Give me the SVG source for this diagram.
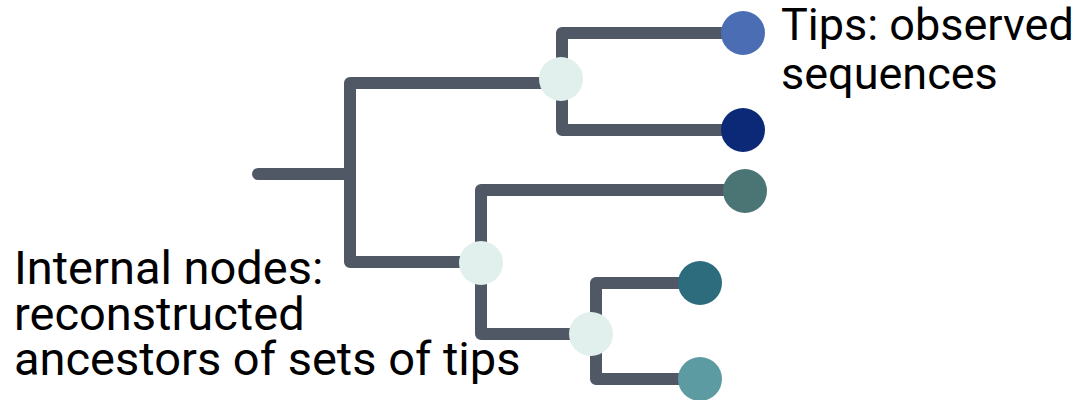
<svg xmlns="http://www.w3.org/2000/svg" width="1089" height="400" viewBox="0 0 1089 400">
<style>
.br{fill:none;stroke:#515865;stroke-width:12;stroke-linecap:round;stroke-linejoin:round}
.int{fill:#e1efed}
.t{font-family:Roboto,"Liberation Sans",sans-serif;font-size:45px;fill:#000}
.l{font-size:47px}
</style>
<rect width="1089" height="400" fill="#fff"/>
<g id="connectors">
<path class="br" d="M258 174 H350"/>
<path class="br" d="M561 83 H350 V262 H481"/>
<path class="br" d="M743 33 H562 V130 H743"/>
<path class="br" d="M745 190 H481 V334 H596"/>
<path class="br" d="M700 283 H596 V379 H700"/>
</g>
<g id="internal1"><circle class="int" cx="561" cy="79" r="22"/></g>
<g id="internal2"><circle class="int" cx="481" cy="263" r="22"/></g>
<g id="internal3"><circle class="int" cx="591" cy="334" r="22"/></g>
<g id="tip1"><circle cx="743" cy="33" r="22" fill="#4a6db3"/></g>
<g id="tip2"><circle cx="743" cy="130" r="22" fill="#0b2977"/></g>
<g id="tip3"><circle cx="745" cy="191" r="22" fill="#4b7575"/></g>
<g id="tip4"><circle cx="700" cy="283" r="22" fill="#2d6c7d"/></g>
<g id="tip5"><circle cx="700" cy="379" r="22" fill="#5c9ba1"/></g>
<g id="label-tips">
<text class="t" x="781" y="40">Tips: observed</text>
<text class="t" x="781" y="89">sequences</text>
</g>
<g id="label-internal">
<text class="t l" x="14" y="284">Internal nodes:</text>
<text class="t l" x="14" y="330">reconstructed</text>
<text class="t l" x="14" y="375">ancestors of sets of tips</text>
</g>
</svg>
